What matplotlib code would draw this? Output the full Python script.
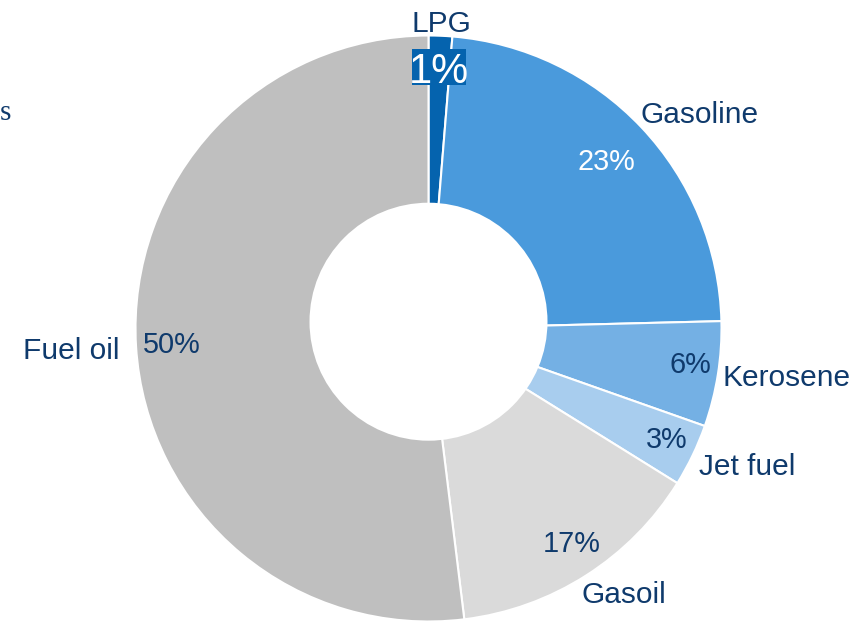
import matplotlib
matplotlib.use('Agg')
import matplotlib.pyplot as plt
from matplotlib.patches import Circle, Rectangle

# ---- data ----
categories = ['LPG', 'Gasoline', 'Kerosene', 'Jet fuel', 'Gasoil', 'Fuel oil']
shares = [1.3, 23.3, 5.8, 3.45, 14.2, 51.95]          # drawn wedge sizes
pct_labels = ['1%', '23%', '6%', '3%', '17%', '50%']   # printed labels
colors = ['#0563AE', '#4A9ADC', '#74B0E4', '#A8CDEE', '#DADADA', '#BFBFBF']

# ---- layout (pixel coordinates, y measured from top) ----
W, H = 858, 622
name_pos = [(441, 31.7), (699.7, 123.3), (787, 386), (747, 475), (623.7, 603.3), (70.8, 359)]
pct_pos = [(439, 83.3), (606.3, 170), (690.2, 372.7), (667.2, 448.3), (571.3, 551.7), (171.7, 353.3)]
navy = '#0F3A6C'
font = 'Liberation Sans'

fig = plt.figure(figsize=(8.58, 6.22), dpi=100)
ax = fig.add_axes([0, 0, 1, 1])
cx, cy = 428.5, H - 328.5
ax.pie(shares, colors=colors, startangle=90, counterclock=False,
       center=(cx, cy), radius=293,
       wedgeprops=dict(edgecolor='white', linewidth=1.5), frame=False)
ax.add_patch(Circle((428.5, H - 321.7), 119, facecolor='white',
                    edgecolor='none', zorder=3))
ax.set_xlim(0, W)
ax.set_ylim(0, H)
ax.set_aspect('equal')
ax.axis('off')

# LPG highlight box
ax.add_patch(Rectangle((411.7, H - 85), 54.3, 35.7, facecolor='#0563AE',
                       edgecolor='none', zorder=4))

for i, name in enumerate(categories):
    x, y = name_pos[i]
    ax.text(x, H - y, name, ha='center', va='baseline', fontsize=21.5,
            color=navy, family=font, zorder=5)
    px, py = pct_pos[i]
    if i == 0:
        ax.text(px, H - py, pct_labels[i], ha='center', va='baseline',
                fontsize=30, color='white', family=font, zorder=5)
    else:
        c = 'white' if i == 1 else navy
        ax.text(px, H - py, pct_labels[i], ha='center', va='baseline',
                fontsize=20.8, color=c, family=font, zorder=5)

# stray fragment at the left edge
ax.text(5, H - 120, 's', ha='center', va='baseline', fontsize=21,
        color=navy, family='Liberation Serif', zorder=5)

fig.savefig('out.png', dpi=100)
